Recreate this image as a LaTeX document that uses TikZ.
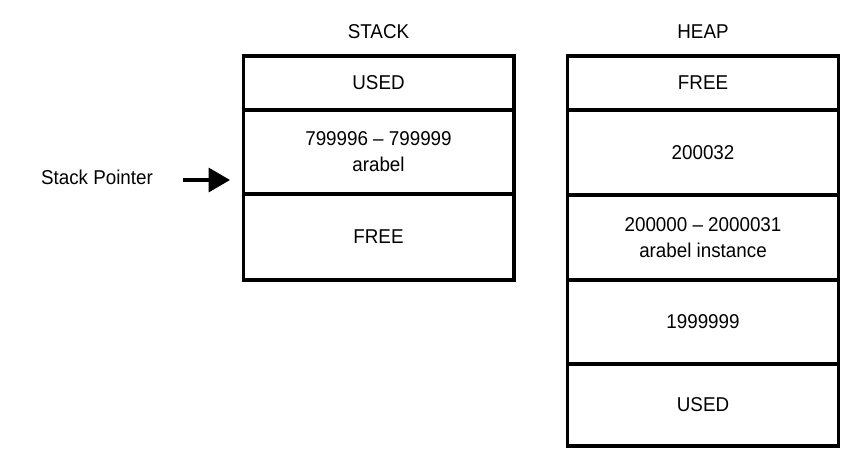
\documentclass[tikz,border=0pt]{standalone}
\usepackage{fontspec}
\setmainfont{Liberation Sans}[FakeStretch=0.94]
\usetikzlibrary{arrows.meta,positioning}

\begin{document}
\begin{tikzpicture}[
  x=0.75pt,y=-0.75pt,
  font=\fontsize{15}{19.5}\selectfont,
  cell/.style={draw,line width=2.5pt,minimum width=203pt,inner sep=0pt,align=center},
  heading/.style={align=center},
  pointer/.style={-{Triangle[length=16pt,width=18pt]},line width=2.4pt}
]
\useasboundingbox (0,0) rectangle (859,461);

% Stack column
\node[heading] (stacktitle) at (378.5,32) {STACK};
\node[cell,minimum height=40.5pt] (sused) at (378.5,83) {USED};
\node[cell,minimum height=63pt] (sarabel) at (378.5,152) {799996 -- 799999\\arabel};
\node[cell,minimum height=64.5pt] (sfree) at (378.5,237) {FREE};

% Heap column
\node[heading] (heaptitle) at (703,32) {HEAP};
\node[cell,minimum height=40.5pt] (hfree) at (703,83) {FREE};
\node[cell,minimum height=63.75pt] (hnext) at (703,152.5) {200032};
\node[cell,minimum height=63.75pt] (hinst) at (703,237.5) {200000 -- 2000031\\arabel instance};
\node[cell,minimum height=63pt] (hbelow) at (703,322) {1999999};
\node[cell,minimum height=61.5pt] (hused) at (703,405) {USED};

% Stack pointer
\node (sp) at (97,177) {Stack Pointer};
\coordinate (sptail) at (183,180);
\coordinate (sphead) at (230,180);
\draw[pointer] (sptail) -- (sphead);
\end{tikzpicture}
\end{document}
